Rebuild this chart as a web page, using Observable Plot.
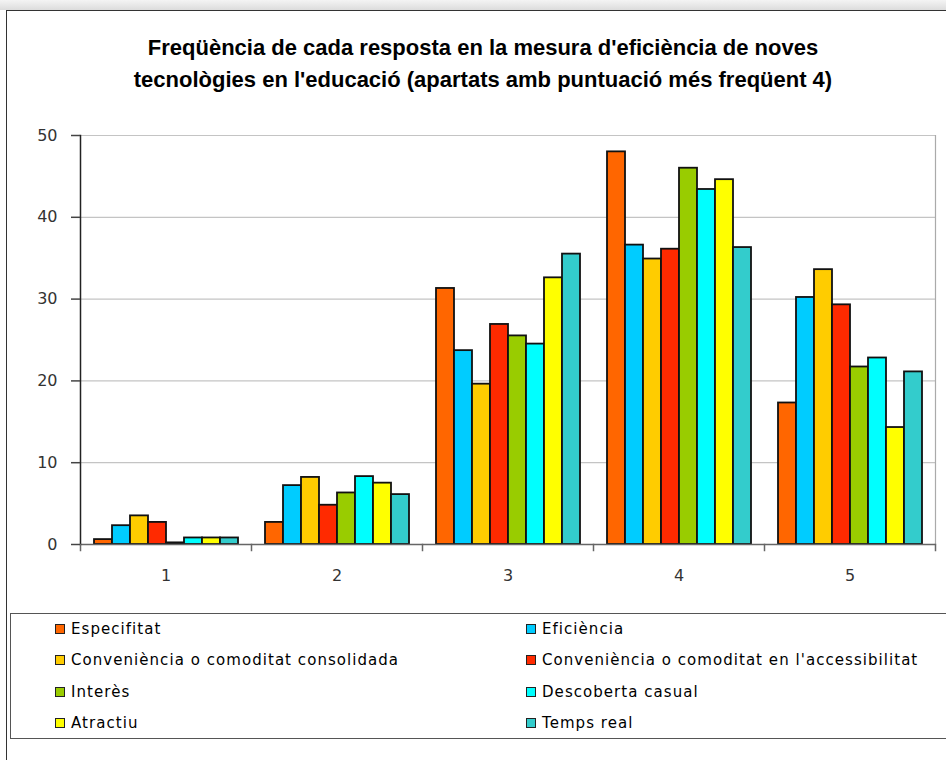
<!DOCTYPE html>
<html>
<head>
<meta charset="utf-8">
<script src="https://cdn.jsdelivr.net/npm/d3@7"></script>
<script src="https://cdn.jsdelivr.net/npm/@observablehq/plot@0.6"></script>
<style>
  html, body { margin: 0; padding: 0; background: #fff; width: 946px; height: 760px; overflow: hidden; position: relative; }
  #topstrip { position: absolute; left: 0; top: 0; width: 946px; height: 10px; background: linear-gradient(#f4f4f4, #dcdcdc); }
  #box { position: absolute; left: 6px; top: 10px; width: 980px; height: 800px; border-left: 1.5px solid #333; border-top: 1.5px solid #333; box-sizing: border-box; }
  #title { position: absolute; left: 0; top: 32px; width: 966px; text-align: center; font-family: "Liberation Sans", Arial, sans-serif; font-weight: bold; font-size: 22px; line-height: 32px; color: #000; }
  #chart { position: absolute; left: 0; top: 120px; }
  #legend { position: absolute; left: 10px; top: 613px; width: 980px; height: 126px; border: 1.5px solid #555; box-sizing: border-box; font-family: "DejaVu Sans", sans-serif; font-size: 15px; letter-spacing: 1.05px; color: #000; }
  .item { position: absolute; display: flex; align-items: center; height: 18px; white-space: nowrap; }
  .sw { width: 8px; height: 8px; border: 1.5px solid #222; margin-right: 6px; }
</style>
</head>
<body>
<div id="topstrip"></div>
<div id="box"></div>
<div id="title">Freqüència de cada resposta en la mesura d'eficiència de noves<br>tecnològies en l'educació (apartats amb puntuació més freqüent 4)</div>
<div id="chart"></div>
<div id="legend"></div>
<script>
const groups = ["1", "2", "3", "4", "5"];
const series = [
  "Especifitat",
  "Eficiència",
  "Conveniència o comoditat consolidada",
  "Conveniència o comoditat en l'accessibilitat",
  "Interès",
  "Descoberta casual",
  "Atractiu",
  "Temps real"
];
const colors = ["#FF6600", "#00CCFF", "#FFCC00", "#FF2A00", "#99CC00", "#00FFFF", "#FFFF00", "#33CCCC"];

const especifitat    = [0.6, 2.7, 31.3, 48.0, 17.3];
const eficiencia     = [2.3, 7.2, 23.7, 36.6, 30.2];
const consolidada    = [3.5, 8.2, 19.6, 34.9, 33.6];
const accessibilitat = [2.7, 4.8, 26.9, 36.1, 29.3];
const interes        = [0.2, 6.3, 25.5, 46.0, 21.7];
const descoberta     = [0.8, 8.3, 24.5, 43.4, 22.8];
const atractiu       = [0.8, 7.5, 32.6, 44.6, 14.3];
const tempsReal      = [0.8, 6.1, 35.5, 36.3, 21.1];
const yTicks = [0, 10, 20, 30, 40, 50];

const seriesValues = [especifitat, eficiencia, consolidada, accessibilitat, interes, descoberta, atractiu, tempsReal];
const data = series.flatMap((s, i) => groups.map((g, j) => ({group: g, series: s, value: seriesValues[i][j]})));

const plotHeight = 480, marginTop = 15, marginBottom = 56;
const innerH = plotHeight - marginTop - marginBottom;

const chart = Plot.plot({
  width: 946,
  height: plotHeight,
  marginLeft: 80,
  marginRight: 11,
  marginTop,
  marginBottom,
  style: {background: "transparent", fontFamily: "DejaVu Sans, sans-serif", color: "#333"},
  fx: {domain: groups, padding: 0, label: null},
  x: {domain: series, paddingInner: 0, paddingOuter: 0.68, axis: null},
  y: {domain: [0, 50], label: null},
  color: {domain: series, range: colors},
  marks: [
    Plot.gridY(yTicks.filter(d => d > 0), {stroke: "#c4c4c4", strokeOpacity: 1, strokeWidth: 1.2}),
    Plot.frame({anchor: "right", fx: "5", stroke: "#aaa", strokeWidth: 1.2}),
    Plot.barY(data, {fx: "group", x: "series", y: "value", fill: "series", stroke: "#111", strokeWidth: 1.8}),
    Plot.ruleY([0], {stroke: "#666", strokeWidth: 1.5}),
    Plot.frame({anchor: "left", fx: "1", stroke: "#222", strokeWidth: 1.5}),
    Plot.frame({anchor: "left", insetTop: innerH, insetBottom: -6, stroke: "#666", strokeWidth: 1.5}),
    Plot.frame({anchor: "right", fx: "5", insetTop: innerH, insetBottom: -6, stroke: "#666", strokeWidth: 1.5}),
    Plot.axisY({ticks: yTicks, tickSize: 9, tickPadding: 14, fontSize: 16, stroke: "#444", strokeWidth: 1.5, strokeOpacity: 1}),
    Plot.axisFx({anchor: "bottom", tickSize: 0, tickPadding: 25, fontSize: 16, label: null})
  ]
});
document.getElementById("chart").appendChild(chart);

const legend = document.getElementById("legend");
const colX = [44, 515];
const rowY = [6, 37, 69, 100];
series.forEach((s, i) => {
  const it = document.createElement("div");
  it.className = "item";
  it.style.left = colX[i % 2] + "px";
  it.style.top = rowY[Math.floor(i / 2)] + "px";
  const sw = document.createElement("div");
  sw.className = "sw";
  sw.style.background = colors[i];
  const t = document.createElement("span");
  t.textContent = s;
  it.appendChild(sw);
  it.appendChild(t);
  legend.appendChild(it);
});
</script>
</body>
</html>
